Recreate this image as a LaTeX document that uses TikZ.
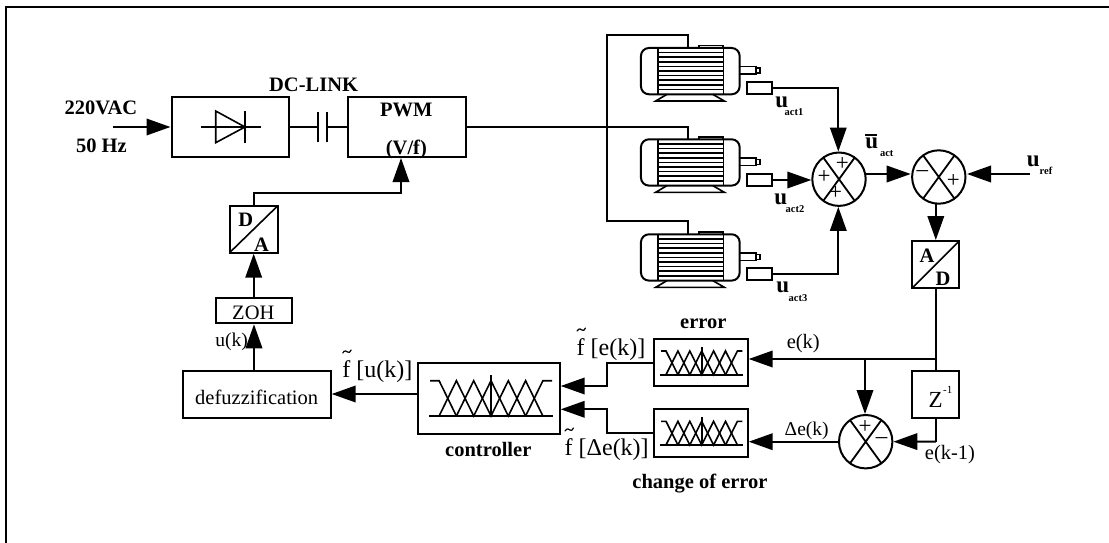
\documentclass[tikz,border=0pt]{standalone}
\usepackage{fontspec}
\setmainfont{Liberation Serif}
\usetikzlibrary{arrows.meta,calc}
\newcommand{\tildeover}[1]{\draw[line width=1.2pt,line cap=round] ($(#1.base west)+(0.6,-24)$) .. controls ($(#1.base west)+(2.6,-27.5)$) and ($(#1.base west)+(4.6,-25.5)$) .. ($(#1.base west)+(5.4,-25)$) .. controls ($(#1.base west)+(6.6,-24)$) and ($(#1.base west)+(8,-24.5)$) .. ($(#1.base west)+(9,-27)$);}
\tikzset{
  wire/.style={line width=2pt,line join=miter},
  arr/.style={wire,-{Triangle[length=24pt,width=16.5pt]},shorten >=1pt},
  blockbox/.style={draw,line width=2pt,rectangle,inner sep=0pt,outer sep=0pt},
  sumcirc/.style={draw,line width=2pt,circle,inner sep=0pt,outer sep=0pt,minimum size=53.4pt},
  thinpart/.style={line width=1.6pt},
  bt/.style={font=\bfseries\fontsize{20.5}{22}\selectfont,inner sep=0pt},
  rt/.style={font=\fontsize{20.5}{22}\selectfont,inner sep=0pt},
  ft/.style={font=\fontsize{24}{26}\selectfont,inner sep=0pt,anchor=base},
  sym/.style={font=\fontsize{23}{24}\selectfont,inner sep=0pt},
  subt/.style={font=\bfseries\fontsize{10.5}{12}\selectfont,inner sep=0pt},
  ubold/.style={font=\bfseries\fontsize{23}{26}\selectfont,inner sep=0pt},
}
\newcommand{\motorblock}[2]{%
  \node[blockbox,rounded corners=8pt,minimum width=98.7pt,minimum height=46.3pt] (#1) at (690.3,#2+23.15) {};
  \begin{scope}[shift={(0,#2)},thinpart]
    \draw (657.7,0) -- (657.7,46.3) (723.3,0) -- (723.3,46.3);
    \foreach \r in {4.6,9.2,...,42} {\draw (657.7,\r) -- (723.3,\r);}
    \draw (699,0) -- (699,-2.3) -- (723,-2.3) -- (723,0);
    \draw (667,46.3) -- (655.7,53) -- (724.3,53) -- (712.7,46.3);
    \draw (739.7,18.7) -- (755.7,18.7) -- (755.7,26) -- (739.7,26);
    \draw (755.7,20.3) -- (760,20.3) -- (760,25) -- (755.7,25);
  \end{scope}%
}
\newcommand{\fuzzyicon}[5]{% cx, base y, unit, height, baseline half width
  \begin{scope}[shift={(#1,#2)},line width=1.6pt]
    \draw (-#5,0) -- (#5,0);
    \draw (0,0) -- (0,-#4*1.17);
    \draw (-#5+1,-#4) -- (-#3*3,-#4) -- (-#3*2,0);
    \draw (#5-1,-#4) -- (#3*3,-#4) -- (#3*2,0);
    \draw (-#3*3,0) -- (-#3*2,-#4) -- (-#3,0) -- (0,-#4) -- (#3,0) -- (#3*2,-#4) -- (#3*3,0);
    \draw (-#3*2,0) -- (-#3,-#4) -- (0,0) -- (#3,-#4) -- (#3*2,0);
  \end{scope}%
}
\begin{document}
\begin{tikzpicture}[x=1pt,y=-1pt]
\useasboundingbox (0,0) rectangle (1109,543);
% frame
\draw[line width=2.2pt] (6,543) -- (6,6.7) -- (1109,6.7);
% power stage
\node[blockbox,minimum width=117.8pt,minimum height=59pt] (rect) at (230.4,127) {};
\node[blockbox,minimum width=117.5pt,minimum height=59pt] (pwm) at (407,127) {};
\coordinate (acin) at (112.5,127);
\draw[arr] (acin) -- (rect.west);
\draw[thinpart] (200.7,127) -- (260.7,127);
\draw[thinpart] (215.7,111) -- (215.7,142.7) -- (245,127) -- cycle;
\draw[thinpart] (245,111) -- (245,142.7);
\coordinate (capa) at (318,127);
\coordinate (capb) at (327,127);
\draw[wire] (rect.east) -- (capa);
\draw[wire] (capb) -- (pwm.west);
\draw[thinpart] (318,112) -- (318,142) (327,112) -- (327,142);
\node[bt] (l220) at (101,107.7) {220VAC};
\node[bt] (l50) at (101.4,145.7) {50 Hz};
\node[bt] (ldc) at (313.6,85.3) {DC-LINK};
\node[bt] (lpwm) at (406.4,110) {PWM};
\node[bt] (lvf) at (406.4,149.3) {(V/f)};
% D/A, ZOH, defuzz
\node[blockbox,minimum width=48.3pt,minimum height=47pt] (da) at (253.7,229.2) {};
\draw[thinpart] (da.south west) -- (da.north east);
\node[bt] (ld) at (245.7,220) {D};
\node[bt] (la) at (261.4,244.3) {A};
\node[blockbox,minimum width=76pt,minimum height=25pt] (zoh) at (254,310.8) {};
\node[rt] (lzoh) at (253.3,313) {ZOH};
\node[blockbox,minimum width=147.4pt,minimum height=47.3pt] (defz) at (257,394.3) {};
\node[rt] (ldefz) at (256.7,397.3) {defuzzification};
\coordinate (pwmin) at (401,157);
\coordinate (dabend) at (253.7,193);
\draw[arr] (da.north) -- (dabend) -| (pwmin);
\draw[arr] (zoh.north -| da.south) -- (da.south);
\draw[arr] (defz.north -| zoh.south) -- (zoh.south);
\node[rt,font=\fontsize{19.5}{22}\selectfont] (luk) at (231.7,342.3) {u(k)};
% controller
\node[blockbox,minimum width=141.4pt,minimum height=71pt] (ctrl) at (489,398.2) {};
\fuzzyicon{491}{416}{17.3}{35.3}{62}
\node[bt] (lctrl) at (488.3,449) {controller};
\coordinate (ctrlout) at (418.3,394);
\draw[arr] (ctrlout) -- (ctrlout -| defz.east);
\node[ft] (lfu) at (377.3,377) {f [u(k)]};
\tildeover{lfu}
% fuzzifiers
\node[blockbox,minimum width=94pt,minimum height=47pt] (err) at (700.7,362.5) {};
\fuzzyicon{701.7}{374.7}{11.9}{23.7}{41.6}
\node[blockbox,minimum width=94pt,minimum height=47.4pt] (cherr) at (700.7,433) {};
\fuzzyicon{701.7}{445}{11.9}{23.7}{41.6}
\node[bt] (lerr) at (703.3,324) {error};
\node[bt] (lcherr) at (700,484) {change of error};
\coordinate (in1) at (559.7,386);
\coordinate (in2) at (559.7,409.3);
\coordinate (mid1) at (606.7,386);
\coordinate (mid2) at (606.7,409.3);
\draw[arr] (err.west) -| (mid1) -- (in1);
\draw[arr] (cherr.west) -| (mid2) -- (in2);
\node[ft] (lfe) at (611,355) {f [e(k)]};
\tildeover{lfe}
\node[ft] (lfde) at (606.7,455) {f [Δe(k)]};
\tildeover{lfde}
% motors
\motorblock{m1}{48}
\motorblock{m2}{139.3}
\motorblock{m3}{234.3}
\coordinate (m1in) at (688.3,48);
\coordinate (m2in) at (688.3,139.3);
\coordinate (m3in) at (688.3,234.3);
\coordinate (bust) at (606.7,34.7);
\coordinate (busb) at (606.7,220.7);
\draw[wire] (m1in) |- (bust) -- (busb) -| (m3in);
\draw[wire] (pwm.east) -| (m2in);
\node[blockbox,minimum width=24.4pt,minimum height=12pt] (s1) at (759.5,88) {};
\node[blockbox,minimum width=24.4pt,minimum height=12pt] (s2) at (759.5,180) {};
\node[blockbox,minimum width=24.4pt,minimum height=12pt] (s3) at (759.5,274) {};
% summers
\node[sumcirc] (c1) at (839,179.2) {};
\node[sumcirc] (c2) at (938.8,177) {};
\node[sumcirc] (c3) at (865.7,441.7) {};
\foreach \c in {c1,c2,c3} {
  \draw[line width=1.8pt] (\c.54) -- (\c.234) (\c.126) -- (\c.306);
}
\node[sym] (p1) at (842.3,164) {+};
\node[sym] (p2) at (824,176.7) {+};
\node[sym] (p3) at (835.7,193.3) {+};
\node[sym] (p4) at (922.3,173.5) {–};
\node[sym] (p5) at (953.3,180.7) {+};
\node[sym] (p6) at (865,426.7) {+};
\node[sym] (p7) at (881.7,441) {–};
\draw[arr] (s1.east) -| (c1.north -| 838.3,0);
\draw[arr] (s2.east) -- (s2.east -| c1.west);
\draw[arr] (s3.east) -| (c1.south -| 838.3,0);
\coordinate (c1out) at (866,174);
\coordinate (c2ina) at (911.7,174);
\coordinate (urefin) at (1030,174);
\coordinate (c2inb) at (966,174);
\draw[arr] (c1out) -- (c2ina);
\draw[arr] (urefin) -- (c2inb);
% A/D, Z
\node[blockbox,minimum width=47pt,minimum height=47pt] (ad) at (935.8,264.5) {};
\draw[thinpart] (ad.south west) -- (ad.north east);
\node[bt] (lA) at (927,256) {A};
\node[bt] (lD) at (943,279) {D};
\draw[arr] (c2.south -| ad.north) -- (ad.north);
\node[blockbox,minimum width=47pt,minimum height=47.3pt] (zd) at (935.8,394.3) {};
\draw[wire] (ad.south) -- (zd.north);
\coordinate (ejunc) at (935.8,359);
\coordinate (ebranch) at (865,359);
\draw[arr] (ejunc) -- (ejunc -| err.east);
\draw[arr] (ebranch) -- (c3.north -| ebranch);
\coordinate (zbend) at (935.8,441.5);
\draw[wire] (zd.south) -- (zbend);
\draw[arr] (zbend) -- (c3.east);
\draw[arr] (c3.west) -- (c3.west -| cherr.east);
% labels
\node[rt] (lek) at (803.3,343.3) {e(k)};
\node[rt,font=\fontsize{19.5}{22}\selectfont] (lde) at (806.7,430.7) {Δe(k)};
\node[rt] (lek1) at (950,454.3) {e(k-1)};
\node[sym] (lz) at (935.7,400) {Z};
\node[inner sep=0pt,font=\fontsize{11}{12}\selectfont] (lzm) at (947.7,390) {-1};
\node[ubold] (u1) at (781.7,102) {u};
\node[subt] (u1s) at (794,112.3) {act1};
\node[ubold] (u2) at (780.7,199) {u};
\node[subt] (u2s) at (795,209.3) {act2};
\node[ubold] (u3) at (782.7,287) {u};
\node[subt] (u3s) at (798,297.7) {act3};
\node[ubold] (ub) at (871.7,143) {u};
\node[subt] (ubs) at (886.7,153.3) {act};
\coordinate (oba) at (865,135);
\coordinate (obb) at (877.3,135);
\draw[wire] (oba) -- (obb);
\node[ubold] (ur) at (1033.3,161.5) {u};
\node[subt] (urs) at (1046,170.7) {ref};
\end{tikzpicture}
\end{document}
